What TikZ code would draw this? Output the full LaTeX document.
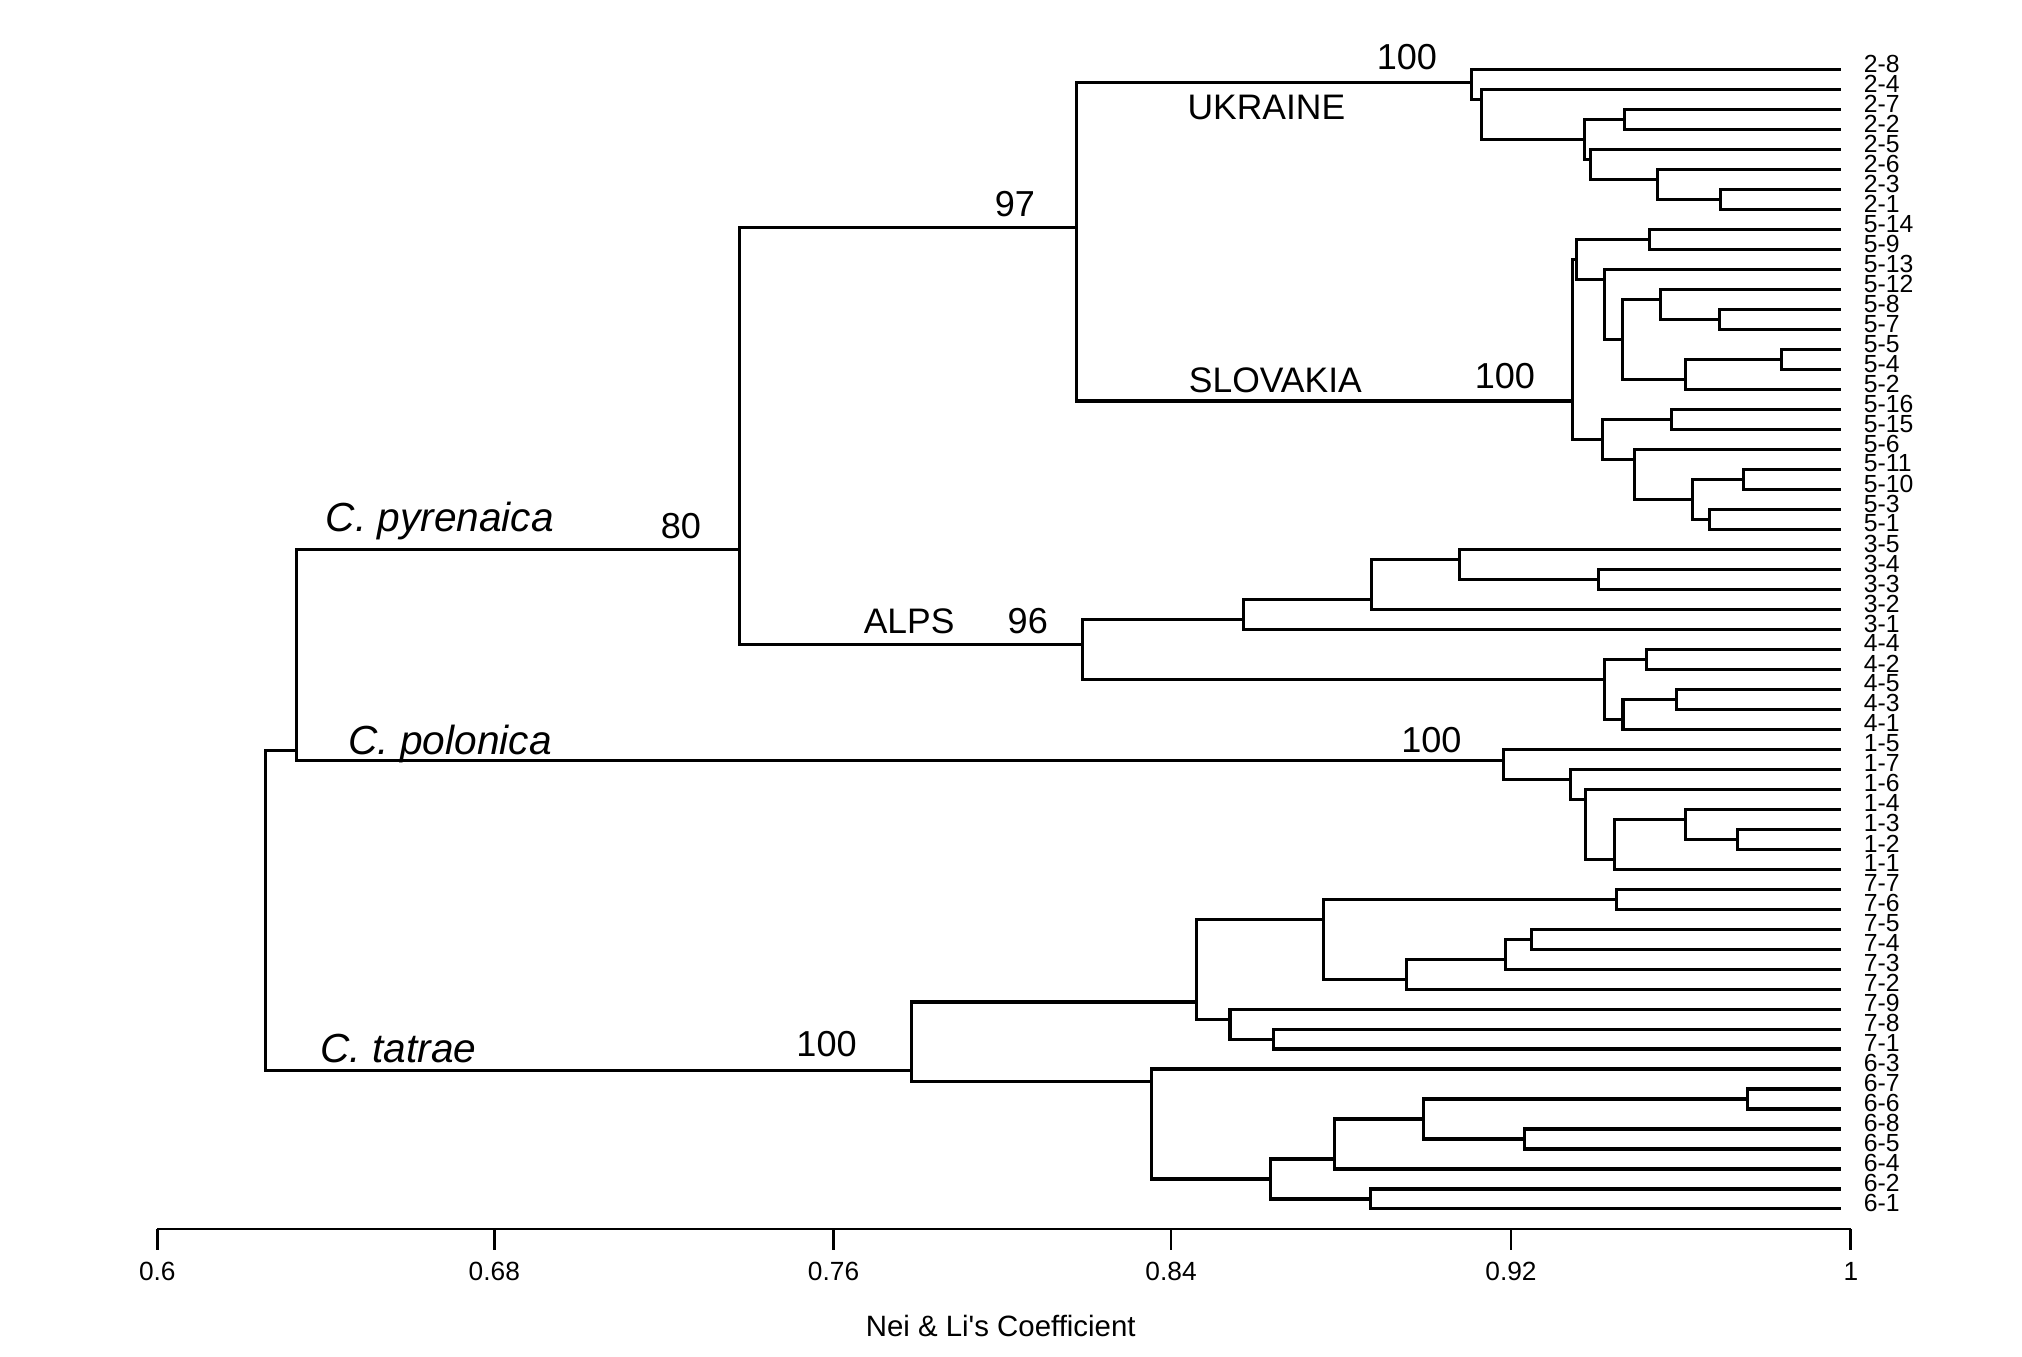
\documentclass[tikz,border=0pt]{standalone}
\usepackage{fontspec}
\setmainfont{Liberation Sans}
\newfontfamily\plainsans[Ligatures=TeXOff]{Liberation Sans}
\begin{document}
\begin{tikzpicture}[x=0.5pt,y=-0.5pt,
  br/.style={line width=1.2pt, line join=miter},
  axisline/.style={line width=1.1pt},
  leaflab/.style={anchor=west, inner sep=0pt, font=\fontsize{9.6}{9.6}\selectfont},
  clade/.style={inner sep=0pt, font=\fontsize{13.75}{14}\selectfont},
  num/.style={inner sep=0pt, font=\fontsize{14}{14}\selectfont},
  sp/.style={inner sep=0pt, font=\fontsize{15.75}{16}\selectfont\itshape},
  axlab/.style={inner sep=0pt, font=\fontsize{10.2}{10.2}\selectfont},
  axtitle/.style={inner sep=0pt, font=\plainsans\fontsize{11.4}{12}\selectfont}]
\useasboundingbox (0,0) rectangle (1568,1052);
\fill[white] (0,0) rectangle (1568,1052);

% leaves
\foreach \lab [count=\i from 0] in {2-8,2-4,2-7,2-2,2-5,2-6,2-3,2-1,
  5-14,5-9,5-13,5-12,5-8,5-7,5-5,5-4,5-2,5-16,5-15,5-6,5-11,5-10,5-3,5-1,
  3-5,3-4,3-3,3-2,3-1,4-4,4-2,4-5,4-3,4-1,
  1-5,1-7,1-6,1-4,1-3,1-2,1-1,
  7-7,7-6,7-5,7-4,7-3,7-2,7-9,7-8,7-1,
  6-3,6-7,6-6,6-8,6-5,6-4,6-2,6-1}{
  \coordinate (L\i) at (1428,{54+15.5*\i});
  \node[leaflab] (T\i) at (1445,{49.5+15.5*\i}) {\lab};
}

% internal nodes
\coordinate (R) at (206,706);
\coordinate (N232) at (230,582);
\coordinate (N80) at (573.5,426);
\coordinate (N97) at (835,176.5);
\coordinate (ALPS) at (839.5,500);
\coordinate (A) at (1141,64);
\coordinate (B) at (1148.7,77.25);
\coordinate (C) at (1228.8,108.25);
\coordinate (D) at (1259.5,92.75);
\coordinate (E) at (1233.4,123.75);
\coordinate (F) at (1285.1,139.25);
\coordinate (G) at (1334.3,154.75);
\coordinate (S0) at (1219.6,311);
\coordinate (S1) at (1222.7,201.25);
\coordinate (Q) at (1279,185.75);
\coordinate (S3) at (1244.2,216.75);
\coordinate (S4) at (1257.9,263.25);
\coordinate (S5) at (1287.3,232.25);
\coordinate (S7) at (1333.4,247.75);
\coordinate (S6) at (1307.3,294.25);
\coordinate (S8) at (1381.7,278.75);
\coordinate (S2) at (1242.7,340.75);
\coordinate (S9) at (1296.5,325.25);
\coordinate (S10) at (1267.3,356.25);
\coordinate (S11) at (1312.8,387.25);
\coordinate (S12) at (1351.9,371.75);
\coordinate (S13) at (1325.7,402.75);
\coordinate (K965) at (964,480.25);
\coordinate (K1063) at (1063.4,464.75);
\coordinate (K1131) at (1131.6,433.75);
\coordinate (K1240) at (1239.6,449.25);
\coordinate (K1244) at (1244.2,526.75);
\coordinate (K1277) at (1277.1,511.25);
\coordinate (K1258) at (1258.6,557.75);
\coordinate (K1300) at (1300.2,542.25);
\coordinate (P1166) at (1165.7,590);
\coordinate (P1218) at (1218,604.25);
\coordinate (P1230) at (1229.7,619.75);
\coordinate (P1252) at (1251.9,666.25);
\coordinate (P1307) at (1307.3,635.25);
\coordinate (P1347) at (1347.3,650.75);
\coordinate (T707) at (707,830);
\coordinate (T928) at (927.8,777);
\coordinate (T1027) at (1026.5,712.75);
\coordinate (T1253) at (1253.5,697.25);
\coordinate (T1090) at (1090.5,759.25);
\coordinate (T1167) at (1167.3,743.75);
\coordinate (T1187) at (1187.3,728.25);
\coordinate (T954) at (953.8,790.25);
\coordinate (T987) at (987.4,805.75);
\coordinate (T893) at (893.2,839);
\coordinate (T985) at (985,914.25);
\coordinate (T1035) at (1035.1,898.75);
\coordinate (T1104) at (1103.7,867.75);
\coordinate (T1355) at (1354.9,852.25);
\coordinate (T1182) at (1182.4,883.25);
\coordinate (T1063) at (1062.8,929.75);

% branches
\draw[br] (R) |- (N232) (R) |- (T707);
\draw[br] (N232) |- (N80) (N232) |- (P1166);
\draw[br] (N80) |- (N97) (N80) |- (ALPS);
\draw[br] (N97) |- (A) (N97) |- (S0);
% Ukraine
\draw[br] (A) |- (L0) (A) |- (B);
\draw[br] (B) |- (L1) (B) |- (C);
\draw[br] (C) |- (D) (C) |- (E);
\draw[br] (D) |- (L2) (D) |- (L3);
\draw[br] (E) |- (L4) (E) |- (F);
\draw[br] (F) |- (L5) (F) |- (G);
\draw[br] (G) |- (L6) (G) |- (L7);
% Slovakia
\draw[br] (S0) |- (S1) (S0) |- (S2);
\draw[br] (S1) |- (Q) (S1) |- (S3);
\draw[br] (Q) |- (L8) (Q) |- (L9);
\draw[br] (S3) |- (L10) (S3) |- (S4);
\draw[br] (S4) |- (S5) (S4) |- (S6);
\draw[br] (S5) |- (L11) (S5) |- (S7);
\draw[br] (S7) |- (L12) (S7) |- (L13);
\draw[br] (S6) |- (S8) (S6) |- (L16);
\draw[br] (S8) |- (L14) (S8) |- (L15);
\draw[br] (S2) |- (S9) (S2) |- (S10);
\draw[br] (S9) |- (L17) (S9) |- (L18);
\draw[br] (S10) |- (L19) (S10) |- (S11);
\draw[br] (S11) |- (S12) (S11) |- (S13);
\draw[br] (S12) |- (L20) (S12) |- (L21);
\draw[br] (S13) |- (L22) (S13) |- (L23);
% Alps
\draw[br] (ALPS) |- (K965) (ALPS) |- (K1244);
\draw[br] (K965) |- (K1063) (K965) |- (L28);
\draw[br] (K1063) |- (K1131) (K1063) |- (L27);
\draw[br] (K1131) |- (L24) (K1131) |- (K1240);
\draw[br] (K1240) |- (L25) (K1240) |- (L26);
\draw[br] (K1244) |- (K1277) (K1244) |- (K1258);
\draw[br] (K1277) |- (L29) (K1277) |- (L30);
\draw[br] (K1258) |- (K1300) (K1258) |- (L33);
\draw[br] (K1300) |- (L31) (K1300) |- (L32);
% polonica
\draw[br] (P1166) |- (L34) (P1166) |- (P1218);
\draw[br] (P1218) |- (L35) (P1218) |- (P1230);
\draw[br] (P1230) |- (L36) (P1230) |- (P1252);
\draw[br] (P1252) |- (P1307) (P1252) |- (L40);
\draw[br] (P1307) |- (L37) (P1307) |- (P1347);
\draw[br] (P1347) |- (L38) (P1347) |- (L39);
% tatrae
\draw[br] (T707) |- (T928) (T707) |- (T893);
\draw[br] (T928) |- (T1027) (T928) |- (T954);
\draw[br] (T1027) |- (T1253) (T1027) |- (T1090);
\draw[br] (T1253) |- (L41) (T1253) |- (L42);
\draw[br] (T1090) |- (T1167) (T1090) |- (L46);
\draw[br] (T1167) |- (T1187) (T1167) |- (L45);
\draw[br] (T1187) |- (L43) (T1187) |- (L44);
\draw[br] (T954) |- (L47) (T954) |- (T987);
\draw[br] (T987) |- (L48) (T987) |- (L49);
\draw[br] (T893) |- (L50) (T893) |- (T985);
\draw[br] (T985) |- (T1035) (T985) |- (T1063);
\draw[br] (T1035) |- (T1104) (T1035) |- (L55);
\draw[br] (T1104) |- (T1355) (T1104) |- (T1182);
\draw[br] (T1355) |- (L51) (T1355) |- (L52);
\draw[br] (T1182) |- (L53) (T1182) |- (L54);
\draw[br] (T1063) |- (L56) (T1063) |- (L57);

% labels
\node[num] (nUkr) at (1091,44) {100};
\node[clade] (tUkr) at (982,83) {UKRAINE};
\node[num] (n97) at (787,158) {97};
\node[clade] (tSlo) at (989,295) {SLOVAKIA};
\node[num] (nSlo) at (1167,292) {100};
\node[sp] (tPyr) at (341,404) {C. pyrenaica};
\node[num] (n80) at (528,408) {80};
\node[clade] (tAlps) at (705,482) {ALPS};
\node[num] (n96) at (797,482) {96};
\node[sp] (tPol) at (349,577) {C. polonica};
\node[num] (nPol) at (1110,574) {100};
\node[sp] (tTat) at (309,813) {C. tatrae};
\node[num] (nTat) at (641,810) {100};

% axis
\coordinate (ax0) at (122,953);
\coordinate (ax1) at (1435.3,953);
\draw[axisline] (ax0) -- (ax1);
\foreach \xx/\vv [count=\k] in {122/0.6,383.3/0.68,646.4/0.76,908.1/0.84,1171.7/0.92,1435.3/1}{
  \coordinate (tk\k) at (\xx,953);
  \draw[axisline] (tk\k) -- ++(0,16);
  \node[axlab] (al\k) at (\xx,986) {\vv};
}
\node[axtitle] (axt) at (776,1028) {Nei \& Li's Coefficient};
\end{tikzpicture}
\end{document}
